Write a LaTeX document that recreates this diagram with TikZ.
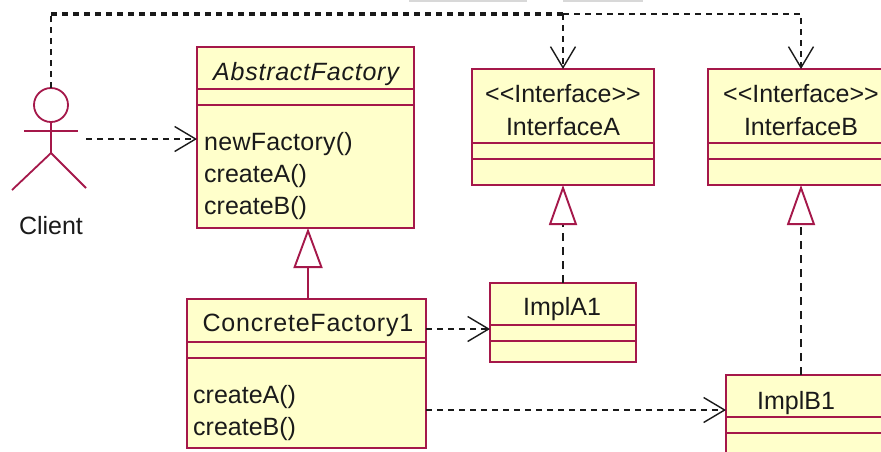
\documentclass[tikz,border=0pt]{standalone}
\usepackage{fontspec}
\setmainfont{Liberation Sans}
\usetikzlibrary{arrows.meta}
\definecolor{umlred}{HTML}{A5184A}
\definecolor{umlfill}{HTML}{FFFFCB}
\definecolor{umlink}{HTML}{1A1A1A}
\definecolor{tabgrey}{HTML}{D8D8D8}
\tikzset{
  umlbox/.style={draw=umlred,fill=umlfill,line width=2pt,rectangle,inner sep=0pt,outer sep=0pt,anchor=north west},
  divider/.style={draw=umlred,line width=2pt},
  label/.style={text=umlink,font=\fontsize{25}{28}\selectfont,inner sep=0pt,anchor=base},
  oplabel/.style={label,anchor=base west},
  dep/.style={draw=umlink,line width=1.8pt,dash pattern=on 6pt off 5pt,-{Straight Barb[length=21pt,width=25pt,line width=1.4pt,color=umlink]}},
  realize/.style={draw=umlink,line width=1.8pt,dash pattern=on 8pt off 6pt,-{Triangle[open,length=40pt,width=28pt,fill=white,color=umlred,line width=1.9pt]}},
  extend/.style={draw=umlred,line width=2pt,-{Triangle[open,length=40pt,width=29pt,fill=white,color=umlred,line width=1.9pt]}},
  actorline/.style={draw=umlred,line width=1.8pt},
  tab/.style={draw=none,fill=tabgrey,inner sep=0pt,outer sep=0pt,anchor=north west}
}
\begin{document}
\begin{tikzpicture}[x=1pt,y=-1pt]
\clip (0,0) rectangle (881,451);
\fill[white] (0,0) rectangle (881,451);
% grey fragments at the top edge
\node[tab,minimum width=118pt,minimum height=2pt] (tabA) at (409,0) {};
\node[tab,minimum width=80pt,minimum height=2pt] (tabB) at (563,0) {};
% boxes
\node[umlbox,minimum width=217pt,minimum height=181pt] (af) at (197,47) {};
\node[umlbox,minimum width=182pt,minimum height=116pt] (ia) at (472,69) {};
\node[umlbox,minimum width=190pt,minimum height=116pt] (ib) at (708,69) {};
\node[umlbox,minimum width=239pt,minimum height=149pt] (cf) at (187,299) {};
\node[umlbox,minimum width=146pt,minimum height=79pt] (a1) at (490,283) {};
\node[umlbox,minimum width=170pt,minimum height=100pt] (b1) at (726,375) {};
% dividers
\foreach \b/\ya/\yb in {af/89/105,ia/143/159,ib/143/159,cf/342/358,a1/325/341,b1/417/433}{
  \draw[divider] (\b.west |- 0,\ya) -- (\b.east |- 0,\ya);
  \draw[divider] (\b.west |- 0,\yb) -- (\b.east |- 0,\yb);
}
% texts
\node[label] (afname) at (306,80) {\addfontfeatures{LetterSpace=3}\itshape AbstractFactory};
\node[oplabel] (afnew) at (204,150) {\addfontfeatures{LetterSpace=1}newFactory()};
\node[oplabel] (afa) at (204,182) {createA()};
\node[oplabel] (afb) at (204,214) {createB()};
\node[label] (iast) at (563,102) {<{}<Interface>{}>};
\node[label] (ianame) at (563,135) {InterfaceA};
\node[label] (ibst) at (801,102) {<{}<Interface>{}>};
\node[label] (ibname) at (801,135) {InterfaceB};
\node[label] (cfname) at (308,331) {\addfontfeatures{LetterSpace=3.2}ConcreteFactory1};
\node[oplabel] (cfa) at (193,403) {createA()};
\node[oplabel] (cfb) at (193,435) {createB()};
\node[label] (a1name) at (562,315) {ImplA1};
\node[label] (b1name) at (796,409) {ImplB1};
\node[label] (clientname) at (51,234) {Client};
% actor
\node[circle,draw=umlred,line width=1.8pt,minimum size=34pt,inner sep=0pt,outer sep=0pt] (head) at (51,105) {};
\coordinate (hip) at (51,153);
\coordinate (armL) at (24,131);
\coordinate (armR) at (78,131);
\coordinate (legL) at (12,190);
\coordinate (legR) at (86,188);
\draw[actorline] (head.south) -- (hip);
\draw[actorline] (armL) -- (armR);
\draw[actorline] (legL) -- (hip) -- (legR);
% connectors
\coordinate (cstart) at (86,139);
\coordinate (trunkA) at (51,14);
\coordinate (trunkB) at (563,14);
\coordinate (trunkC) at (801,14);
\coordinate (cfa1) at (426,329);
\coordinate (cfb1) at (426,410);
\draw[dep] (cstart) -- (af.west |- cstart);
\draw[dep,-,line width=1.8pt] (head.north) -- (trunkA);
\draw[dep,-,line width=3.2pt] (trunkA) -- (trunkB);
\draw[dep] (trunkB) -- (trunkB |- ia.north);
\draw[dep] (trunkB) -- (trunkC) -- (trunkC |- ib.north);
\draw[dep] (cfa1) -- (a1.west |- cfa1);
\draw[dep] (cfb1) -- (b1.west |- cfb1);
\draw[extend] (cf.north -| 308,0) -- (308,228);
\draw[realize] (a1.north) -- (ia.south);
\draw[realize] (b1.north -| trunkC) -- (trunkC |- ib.south);
\end{tikzpicture}
\end{document}
